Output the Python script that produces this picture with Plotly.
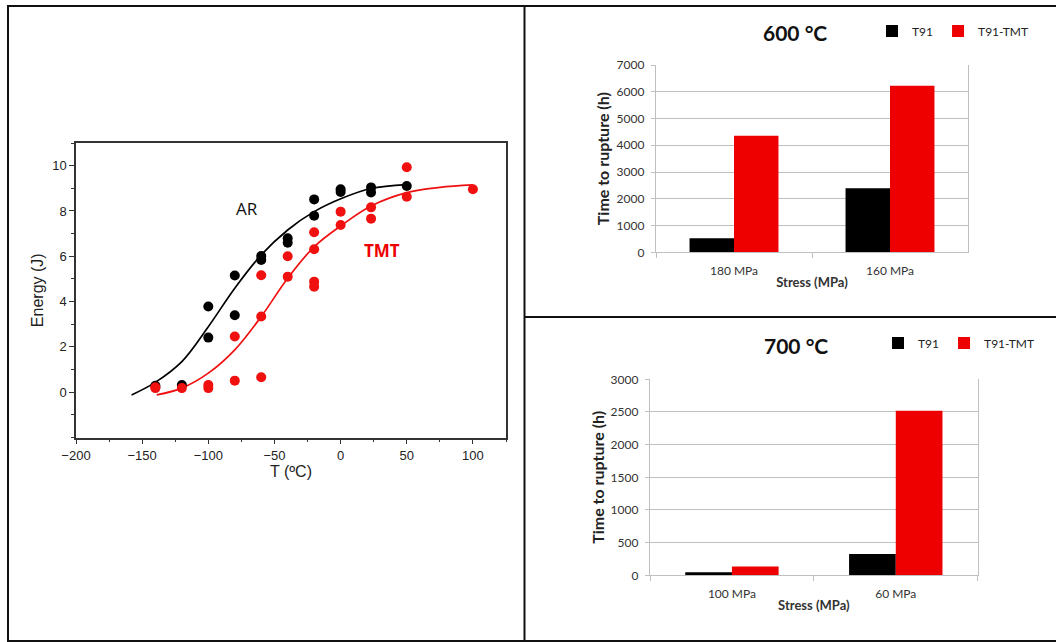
import plotly.graph_objects as go

W, H = 1056, 642

# ---------------- Left chart: Charpy energy vs temperature ----------------
ar_T = [-140, -120, -100, -100, -80, -80, -60, -60, -40, -40, -20, -20, 0, 0, 23, 23, 50]
ar_E = [0.28, 0.32, 3.78, 2.41, 5.15, 3.40, 6.01, 5.84, 6.79, 6.60, 8.51, 7.79, 8.96, 8.84, 9.04, 8.82, 9.10]

tmt_T = [-140, -140, -120, -100, -100, -80, -80, -60, -60, -60, -40, -40,
         -20, -20, -20, -20, 0, 0, 23, 23, 50, 50, 100]
tmt_E = [0.22, 0.18, 0.18, 0.32, 0.18, 0.51, 2.46, 0.66, 3.34, 5.16, 6.00, 5.10,
         7.06, 6.31, 4.88, 4.66, 7.97, 7.38, 8.16, 7.66, 9.93, 8.63, 8.96]

# fitted curves
ar_fit_T = [-158, -141, -120, -100, -80, -60, -40, -20, 1, 23, 50]
ar_fit_E = [-0.12, 0.40, 1.35, 2.89, 4.59, 6.06, 7.16, 7.97, 8.56, 8.99, 9.16]

tmt_fit_T = [-139, -120, -100, -80, -60, -40, -20, 1, 23, 50, 75, 100]
tmt_fit_E = [-0.12, 0.18, 0.84, 1.87, 3.34, 5.03, 6.42, 7.38, 8.22, 8.81, 9.04, 9.15]

# ---------------- Right charts: time to rupture ----------------
stress_600 = ["180 MPa", "160 MPa"]
t91_600 = [523, 2391]
tmt_600 = [4359, 6228]

stress_700 = ["100 MPa", "60 MPa"]
t91_700 = [46, 327]
tmt_700 = [133, 2520]

BLACK = "#000000"
RED = "#ee0000"
RED_PT = "#f01010"


def px(x):
    return x / W


def py(y):
    return 1 - y / H


fig = go.Figure()

# left chart traces
fig.add_trace(go.Scatter(x=ar_fit_T, y=ar_fit_E, mode="lines", line=dict(color=BLACK, width=1.7, shape="spline"),
                         showlegend=False, xaxis="x", yaxis="y"))
fig.add_trace(go.Scatter(x=tmt_fit_T, y=tmt_fit_E, mode="lines", line=dict(color=RED_PT, width=1.7, shape="spline"),
                         showlegend=False, xaxis="x", yaxis="y"))
fig.add_trace(go.Scatter(x=ar_T, y=ar_E, mode="markers", marker=dict(color=BLACK, size=10),
                         showlegend=False, xaxis="x", yaxis="y"))
fig.add_trace(go.Scatter(x=tmt_T, y=tmt_E, mode="markers", marker=dict(color=RED_PT, size=10),
                         showlegend=False, xaxis="x", yaxis="y"))

# top-right chart
fig.add_trace(go.Bar(x=stress_600, y=t91_600, name="T91", marker=dict(color=BLACK, line=dict(width=0)),
                     xaxis="x2", yaxis="y2", legend="legend"))
fig.add_trace(go.Bar(x=stress_600, y=tmt_600, name="T91-TMT", marker=dict(color=RED, line=dict(width=0)),
                     xaxis="x2", yaxis="y2", legend="legend"))

# bottom-right chart
fig.add_trace(go.Bar(x=stress_700, y=t91_700, name="T91", marker=dict(color=BLACK, line=dict(width=0)),
                     xaxis="x3", yaxis="y3", legend="legend2"))
fig.add_trace(go.Bar(x=stress_700, y=tmt_700, name="T91-TMT", marker=dict(color=RED, line=dict(width=0)),
                     xaxis="x3", yaxis="y3", legend="legend2"))

LFONT = "Liberation Sans, Arial, sans-serif"
RFONT = "Lato, Open Sans, sans-serif"
AXC = "#333333"
GRID = "#bfbfbf"

left_x = dict(
    domain=[px(76), px(506)], range=[-200, 125], anchor="y",
    tickmode="linear", tick0=-200, dtick=50,
    ticks="outside", ticklen=5, tickwidth=1, tickcolor=AXC,
    minor=dict(tickmode="linear", tick0=-200, dtick=25, ticks="outside", ticklen=3, tickcolor=AXC, showgrid=False),
    showline=True, linecolor=AXC, linewidth=1.5, mirror=True, showgrid=False, zeroline=False,
    tickfont=dict(family=LFONT, size=13, color="#222"),
    title=dict(text="T (ºC)", font=dict(family=LFONT, size=16, color="#222"), standoff=3),
    automargin=False,
)
left_y = dict(
    domain=[py(437.5), py(143)], range=[-2, 11], anchor="x",
    tickmode="array", tickvals=[0, 2, 4, 6, 8, 10],
    ticks="outside", ticklen=5, tickwidth=1, tickcolor=AXC,
    minor=dict(tickmode="linear", tick0=0, dtick=1, ticks="outside", ticklen=3, tickcolor=AXC, showgrid=False),
    showline=True, linecolor=AXC, linewidth=1.5, mirror=True, showgrid=False, zeroline=False,
    tickfont=dict(family=LFONT, size=13, color="#222"),
    title=dict(text="Energy (J)", font=dict(family=LFONT, size=16, color="#222"), standoff=5),
    automargin=False,
)


def bar_x(domain, anchor):
    return dict(
        domain=domain, anchor=anchor, type="category",
        showline=True, linecolor=GRID, linewidth=1.3, mirror=False,
        ticks="outside", tickson="boundaries", ticklen=5, tickcolor=GRID,
        ticklabelstandoff=7,
        showgrid=False, zeroline=False,
        tickfont=dict(family=RFONT, size=12, color="#333"),
        title=dict(text="<b>Stress (MPa)</b>", font=dict(family=RFONT, size=13, color="#333"), standoff=1),
        automargin=False,
    )


def bar_y(domain, anchor, rng, dtick):
    return dict(
        domain=domain, anchor=anchor, range=rng, tickmode="linear", tick0=0, dtick=dtick,
        showline=True, linecolor=GRID, linewidth=1.3, mirror=True,
        ticks="outside", ticklen=4, tickcolor=GRID, ticklabelstandoff=4,
        showgrid=True, gridcolor=GRID, gridwidth=1.2, zeroline=False,
        tickfont=dict(family=RFONT, size=12, color="#333"),
        title=dict(text="<b>Time to rupture (h)</b>", font=dict(family=RFONT, size=16, color="#222"), standoff=2),
        automargin=False,
    )


fig.update_layout(
    width=W, height=H,
    margin=dict(l=0, r=0, t=0, b=0, autoexpand=False),
    paper_bgcolor="white", plot_bgcolor="white",
    barmode="group", bargap=0.43, bargroupgap=0,
    xaxis=left_x, yaxis=left_y,
    xaxis2=bar_x([px(656), px(968)], "y2"),
    yaxis2=bar_y([py(252.3), py(65)], "x2", [0, 7000], 1000),
    xaxis3=bar_x([px(650), px(977.7)], "y3"),
    yaxis3=bar_y([py(575.3), py(379.3)], "x3", [0, 3000], 500),
    legend=dict(orientation="h", x=px(872), y=py(31), xanchor="left", yanchor="middle",
                font=dict(family=RFONT, size=12, color="#222"), bgcolor="rgba(0,0,0,0)",
                itemwidth=30, tracegroupgap=0),
    legend2=dict(orientation="h", x=px(878), y=py(343), xanchor="left", yanchor="middle",
                 font=dict(family=RFONT, size=12, color="#222"), bgcolor="rgba(0,0,0,0)",
                 itemwidth=30, tracegroupgap=0),
    showlegend=True,
)

# chart titles and inline labels
fig.add_annotation(x=px(795), y=py(33), xref="paper", yref="paper", text="<b>600 °C</b>", showarrow=False,
                   xanchor="center", yanchor="middle", font=dict(family=RFONT, size=21, color="#111"))
fig.add_annotation(x=px(796), y=py(345), xref="paper", yref="paper", text="<b>700 °C</b>", showarrow=False,
                   xanchor="center", yanchor="middle", font=dict(family=RFONT, size=21, color="#111"))
fig.add_annotation(x=-71, y=8.1, xref="x", yref="y", text="AR", showarrow=False,
                   xanchor="center", yanchor="middle", font=dict(family="Open Sans, sans-serif", size=17, color="#111"))
fig.add_annotation(x=31, y=6.25, xref="x", yref="y", text="<b>TMT</b>", showarrow=False,
                   xanchor="center", yanchor="middle", font=dict(family="Open Sans, sans-serif", size=17, color=RED))

# panel frame
fig.add_shape(type="rect", xref="paper", yref="paper", x0=px(8), y0=py(641), x1=px(1062), y1=py(6),
              line=dict(color="#111", width=2))
fig.add_shape(type="line", xref="paper", yref="paper", x0=px(524.5), y0=py(641), x1=px(524.5), y1=py(6),
              line=dict(color="#111", width=2))
fig.add_shape(type="line", xref="paper", yref="paper", x0=px(524.5), y0=py(317), x1=px(1062), y1=py(317),
              line=dict(color="#111", width=2))

fig.write_html("out.html", config={"displayModeBar": False},
               post_script="document.body.style.margin='0';document.body.style.overflow='hidden';")
